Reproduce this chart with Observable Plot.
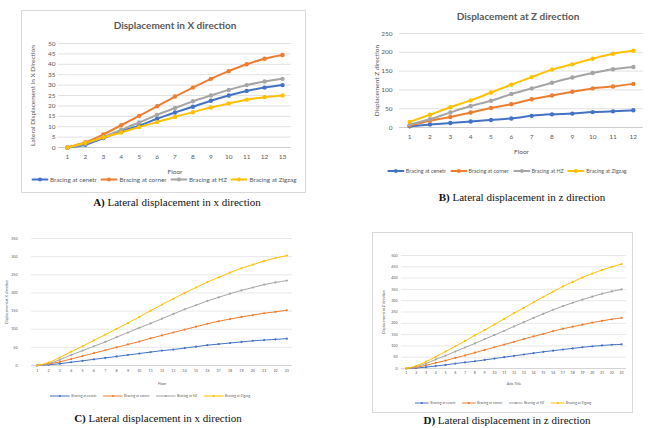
<!DOCTYPE html>
<html><head><meta charset="utf-8">
<script src="https://cdn.jsdelivr.net/npm/d3@7"></script>
<script src="https://cdn.jsdelivr.net/npm/@observablehq/plot@0.6"></script>
<style>
body{margin:0;background:#fff;}
#page{position:relative;width:653px;height:428px;overflow:hidden;background:#fff;font-family:Lato,"Liberation Sans",sans-serif;}
.box{position:absolute;border:1px solid #d9d9d9;box-sizing:border-box;}
.svgwrap{position:absolute;}
.title{position:absolute;font-weight:bold;color:#595959;font-size:10px;white-space:nowrap;transform:translate(-50%,-50%);}
.caption{position:absolute;font-family:"Liberation Serif","Times New Roman",serif;font-size:11px;color:#111;white-space:nowrap;transform:translate(-50%,-50%);}
.legend{position:absolute;display:flex;align-items:center;white-space:nowrap;color:#595959;transform:translate(-50%,-50%);}
.legend .item{display:inline-flex;align-items:center;}
</style></head>
<body><div id="page"></div>
<script>
// ---- data ----
const series = ["Bracing at cenetr", "Bracing at corner", "Bracing at HZ", "Bracing at Zigzag"];
const colors = ["#4472C4", "#ED7D31", "#A5A5A5", "#FFC000"];

// Panel A: displacement in X (13 floors)
const floorsA = [1,2,3,4,5,6,7,8,9,10,11,12,13];
const aCenter = [0,1.3,4.5,7.8,10.5,13.8,16.8,19.6,22.5,25,27.2,28.8,30];
const aCorner = [0,2.5,6.3,10.7,15.2,19.8,24.5,28.8,33,36.7,40,42.7,44.5];
const aHZ     = [0,1.8,5,8.5,12,15.7,19,22.2,25,27.7,30,31.7,33];
const aZigzag = [0,2.3,4.8,7.2,9.8,12.2,14.7,17,19.2,21.2,23,24.2,25];
const yTicksA = [0,5,10,15,20,25,30,35,40,45,50];

// Panel B: displacement at Z (12 floors)
const floorsB = [1,2,3,4,5,6,7,8,9,10,11,12];
const bCenter = [3,8,12,16,20,24,31,35,37,41,43,46];
const bCorner = [5,18,28,40,52,62,75,85,95,104,109,116];
const bHZ     = [8,22,40,57,71,89,104,119,133,145,155,161];
const bZigzag = [15,34,54,72,93,114,134,154,168,183,196,204];
const yTicksB = [0,50,100,150,200,250];

// Panel C: displacement at X (23 floors)
const floorsCD = [1,2,3,4,5,6,7,8,9,10,11,12,13,14,15,16,17,18,19,20,21,22,23];
const cCenter = [0,2,5,9,13,17,21,25,29,33,37,41,44,48,52,56,59,62,65,68,70,72,74];
const cCorner = [0,4,10,18,26,34,42,50,58,66,75,83,91,99,107,115,122,128,134,139,144,148,152];
const cHZ     = [0,5,16,29,41,53,65,78,91,104,116,129,142,155,166,178,188,198,207,215,223,229,234];
const cZigzag = [0,8,22,38,53,69,85,101,117,134,151,168,184,200,215,230,243,256,268,278,288,296,303];
const yTicksC = [0,50,100,150,200,250,300,350];

// Panel D: displacement at Z (23 floors)
const dCenter = [0,2,6,11,16,22,27,32,38,44,50,56,62,68,74,79,84,89,94,98,102,105,107];
const dCorner = [0,5,14,25,35,47,58,70,82,94,106,118,130,142,153,165,176,185,194,203,211,218,224];
const dHZ     = [0,8,22,40,57,75,93,111,130,148,167,186,205,224,242,260,276,291,305,318,331,341,350];
const dZigzag = [0,12,30,52,75,98,122,147,170,195,220,245,268,293,317,340,363,383,403,420,436,450,462];
const yTicksD = [0,50,100,150,200,250,300,350,400,450,500];

// ---- drawing ----
const page = document.getElementById("page");

function addEl(cls, x, y, html, extra) {
  const d = document.createElement("div");
  d.className = cls;
  d.style.left = x + "px";
  d.style.top = y + "px";
  if (extra) Object.assign(d.style, extra);
  d.innerHTML = html;
  page.appendChild(d);
  return d;
}

function chart(o) {
  const rows = [];
  o.data.forEach((vals, si) => vals.forEach((v, i) => rows.push({floor: o.floors[i], value: v, series: series[si]})));
  const f = o.floors;
  const svg = Plot.plot({
    width: o.width, height: o.height,
    marginLeft: o.ml, marginRight: o.mr, marginTop: o.mt, marginBottom: o.mb,
    x: {domain: [f[0] - 0.5, f[f.length - 1] + 0.5]},
    y: {domain: [o.yTicks[0], o.yTicks[o.yTicks.length - 1]]},
    color: {domain: series, range: colors},
    style: {fontFamily: "Lato, 'Liberation Sans', sans-serif", fontSize: o.fs + "px", color: "#595959", background: "transparent"},
    marks: [
      Plot.gridY(o.yTicks, {stroke: "#d9d9d9", strokeOpacity: 1, strokeWidth: o.gw}),
      Plot.ruleY([0], {stroke: "#c8c8c8", strokeWidth: o.gw}),
      Plot.axisY(o.yTicks, {tickSize: 0, tickPadding: o.ytp, label: o.yLabel, labelAnchor: "center", labelArrow: "none", labelOffset: o.ylo, fill: "#595959", fontSize: o.fs}),
      Plot.axisX(f, {tickSize: 0, tickPadding: o.xtp, label: o.xLabel, labelAnchor: "center", labelArrow: "none", labelOffset: o.xlo, fill: "#595959", fontSize: o.fs, tickFormat: d => String(d)}),
      Plot.line(rows, {x: "floor", y: "value", z: "series", stroke: "series", strokeWidth: o.sw, curve: "monotone-x"}),
      Plot.dot(rows, {x: "floor", y: "value", fill: "series", r: o.r, stroke: null})
    ]
  });
  const w = document.createElement("div");
  w.className = "svgwrap";
  w.style.left = o.left + "px";
  w.style.top = o.top + "px";
  w.appendChild(svg);
  page.appendChild(w);
}

function legend(x, y, fs, swW, sw, r, gap) {
  const items = series.map((s, i) =>
    `<span class="item" style="margin:0 ${gap}px"><svg width="${swW}" height="6" style="display:block"><line x1="0" x2="${swW}" y1="3" y2="3" stroke="${colors[i]}" stroke-width="${sw}"/><circle cx="${swW/2}" cy="3" r="${r}" fill="${colors[i]}"/></svg><span style="margin-left:1.5px">${s}</span></span>`
  ).join("");
  addEl("legend", x, y, items, {fontSize: fs + "px"});
}

// boxes
addEl("box", 21, 10, "", {width: "285px", height: "183px"});
addEl("box", 372, 232, "", {width: "261px", height: "181px"});

// Panel A
chart({left: 0, top: 0, width: 326, height: 214, ml: 58, mr: 35, mt: 43, mb: 67,
  floors: floorsA, data: [aCenter, aCorner, aHZ, aZigzag], yTicks: yTicksA,
  xLabel: "Floor", yLabel: "Lateral Displacement in X Direction",
  fs: 6.5, ytp: 3, xtp: 7, ylo: 28, xlo: 26, sw: 2, r: 2.2, gw: 0.8});
addEl("title", 175, 25, "Displacement in X direction");
legend(164, 179, 6.3, 17, 2, 2, 2);
addEl("caption", 177, 202, "<b>A)</b> Lateral displacement in x direction");

// Panel B
chart({left: 330, top: 0, width: 323, height: 214, ml: 69, mr: 10, mt: 33, mb: 87,
  floors: floorsB, data: [bCenter, bCorner, bHZ, bZigzag], yTicks: yTicksB,
  xLabel: "Floor", yLabel: "Displacement Z direction",
  fs: 6.5, ytp: 7, xtp: 6.5, ylo: 25, xlo: 26, sw: 2, r: 2.2, gw: 0.8});
addEl("title", 518, 16, "Displacement at Z direction");
legend(507, 171, 5.4, 17, 2, 2, 2);
addEl("caption", 522, 197, "<b>B)</b> Lateral displacement in z direction");

// Panel C
chart({left: 0, top: 220, width: 326, height: 208, ml: 31, mr: 34, mt: 18, mb: 63,
  floors: floorsCD, data: [cCenter, cCorner, cHZ, cZigzag], yTicks: yTicksC,
  xLabel: "Floor", yLabel: "Displacement at X direction",
  fs: 3.6, ytp: 14, xtp: 4, ylo: 26, xlo: 19, sw: 1, r: 1.1, gw: 0.6});
legend(150, 396, 3.4, 20, 1, 1.1, 3);
addEl("caption", 158, 418, "<b>C)</b> Lateral displacement in x direction");

// Panel D
chart({left: 330, top: 220, width: 323, height: 208, ml: 71, mr: 27, mt: 35, mb: 60,
  floors: floorsCD, data: [dCenter, dCorner, dHZ, dZigzag], yTicks: yTicksD,
  xLabel: "Axis Title", yLabel: "Displacement at Z direction",
  fs: 3.6, ytp: 4, xtp: 3, ylo: 19, xlo: 16, sw: 1, r: 1.1, gw: 0.6});
legend(503, 403, 3.4, 14, 1, 1.1, 3);
addEl("caption", 507, 420, "<b>D)</b> Lateral displacement in z direction");
</script>
</body></html>
